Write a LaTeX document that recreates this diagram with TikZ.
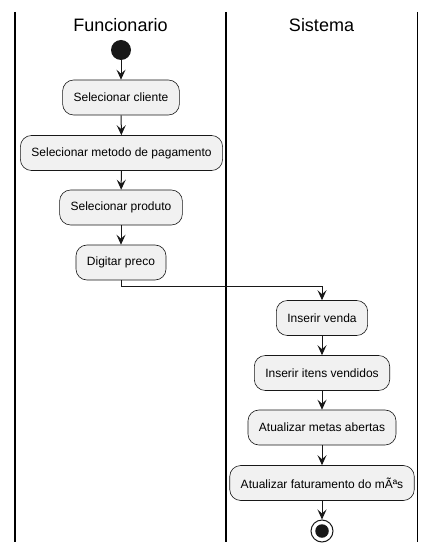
\documentclass[tikz,border=0pt]{standalone}
\usepackage{fontspec}
\setmainfont{Liberation Sans}
\usetikzlibrary{arrows.meta}
\definecolor{linec}{HTML}{181818}
\definecolor{boxfill}{HTML}{F1F1F1}
\tikzset{
  actbox/.style={draw=linec, line width=0.6pt, fill=boxfill, rounded corners=11pt,
    minimum height=35pt, inner xsep=11pt, inner ysep=0pt, font=\fontsize{12}{14}\selectfont, anchor=center},
  flow/.style={draw=linec, line width=1pt, -{Stealth[length=10pt,width=9pt,inset=4pt]}},
  lane/.style={draw=black, line width=1.5pt},
  lanetitle/.style={font=\fontsize{18}{21}\selectfont, anchor=center}
}
\begin{document}
\begin{tikzpicture}[x=1pt,y=-1pt]
\useasboundingbox (0,0) rectangle (436,553);
\fill[white] (0,0) rectangle (436,553);
% lanes
\coordinate (l1t) at (15,12); \coordinate (l1b) at (15,542);
\coordinate (l2t) at (226,12); \coordinate (l2b) at (226,542);
\coordinate (l3t) at (417.5,12); \coordinate (l3b) at (417.5,542);
\draw[lane] (l1t) -- (l1b);
\draw[lane] (l2t) -- (l2b);
\draw[lane] (l3t) -- (l3b);
\node[lanetitle] (t1) at (120.5,25) {Funcionario};
\node[lanetitle] (t2) at (321.5,25) {Sistema};
% start
\node[circle, fill=linec, minimum size=20pt, inner sep=0pt] (start) at (121,50) {};
% boxes
\node[actbox] (b1) at (121,97.5) {Selecionar cliente};
\node[actbox] (b2) at (121.5,153) {Selecionar metodo de pagamento};
\node[actbox] (b3) at (121,207.5) {Selecionar produto};
\node[actbox] (b4) at (121,262.5) {Digitar preco};
\node[actbox] (b5) at (322,318) {Inserir venda};
\node[actbox] (b6) at (322,373) {Inserir itens vendidos};
\node[actbox] (b7) at (322,427.5) {Atualizar metas abertas};
\node[actbox] (b8) at (322,483) {Atualizar faturamento do mÃªs};
% end
\node[circle, draw=linec, line width=1pt, fill=white, minimum size=22pt, inner sep=0pt] (end) at (322,531) {};
\node[circle, fill=linec, minimum size=13.5pt, inner sep=0pt] (endin) at (end.center) {};
% flows
\draw[flow] (start) -- (b1);
\draw[flow] (b1) -- (b2);
\draw[flow] (b2) -- (b3);
\draw[flow] (b3) -- (b4);
\coordinate (k) at (322,286);
\draw[flow] (b4.south) |- (k) -- (b5.north);
\draw[flow] (b5) -- (b6);
\draw[flow] (b6) -- (b7);
\draw[flow] (b7) -- (b8);
\draw[flow] (b8) -- (end);
\end{tikzpicture}
\end{document}
